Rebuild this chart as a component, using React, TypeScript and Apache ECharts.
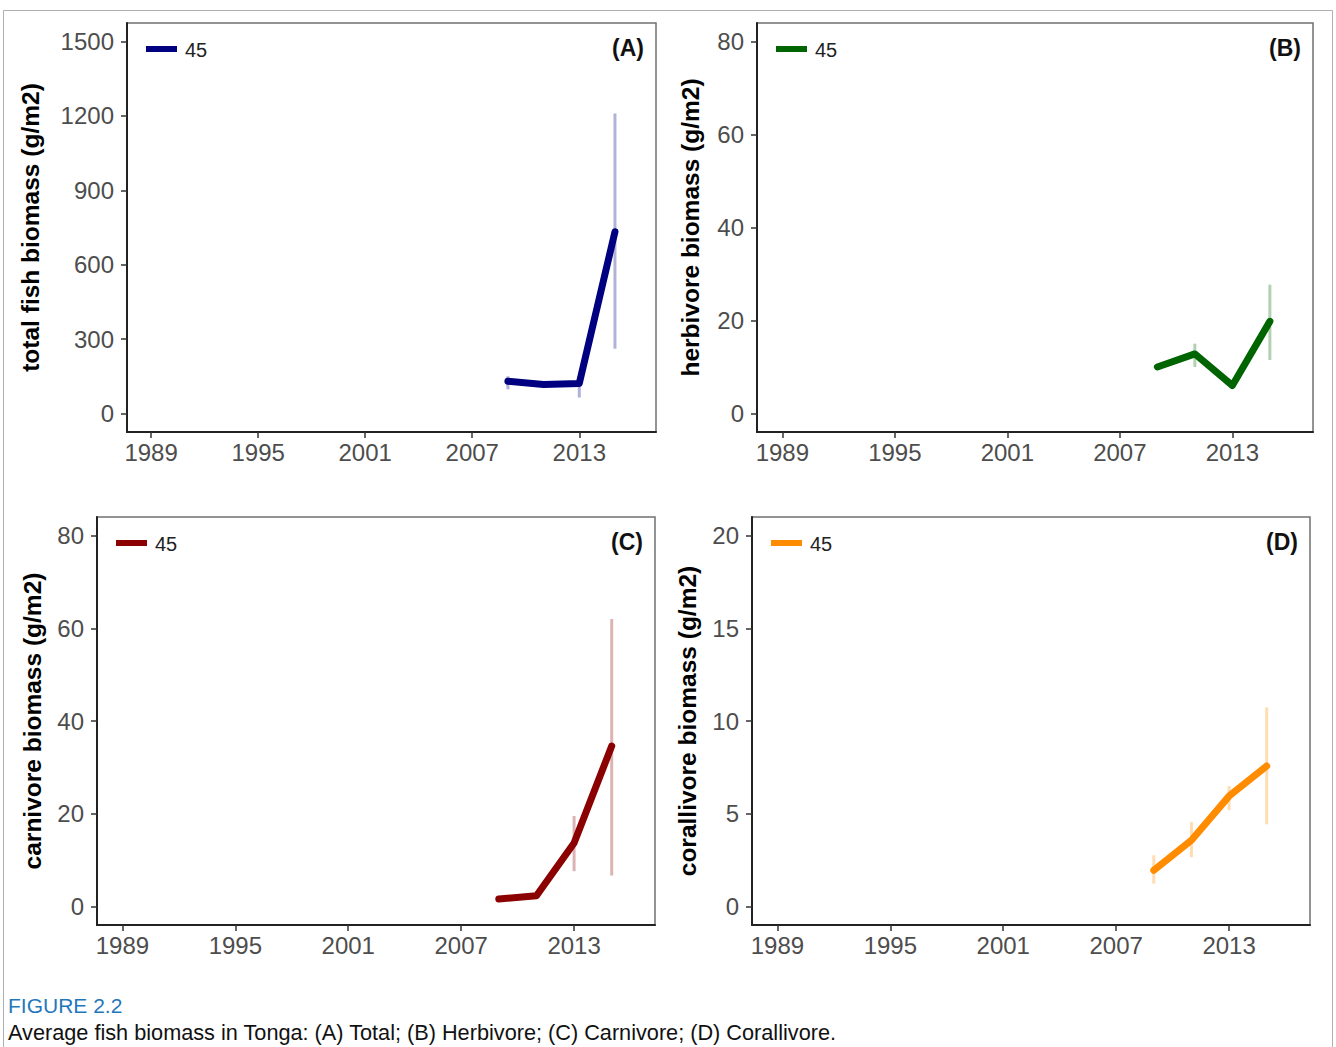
import React, { useEffect, useRef } from "react";
import * as echarts from "echarts";

const years = [2009, 2011, 2013, 2015];
const xTicks = [1989, 1995, 2001, 2007, 2013];

const totalMean = [130, 117, 121, 733];
const totalLow = [97, 110, 64, 261];
const totalHigh = [150, 125, 137, 1210];
const totalTicks = [0, 300, 600, 900, 1200, 1500];

const herbMean = [10, 12.8, 6.0, 19.8];
const herbLow = [9.5, 10.0, 5.6, 11.5];
const herbHigh = [10.5, 15.0, 6.4, 27.7];
const herbTicks = [0, 20, 40, 60, 80];

const carnMean = [1.6, 2.3, 13.7, 34.6];
const carnLow = [1.3, 2.0, 7.6, 6.7];
const carnHigh = [1.9, 2.6, 19.5, 62.0];
const carnTicks = [0, 20, 40, 60, 80];

const coralMean = [1.95, 3.57, 5.95, 7.57];
const coralLow = [1.23, 2.66, 5.19, 4.43];
const coralHigh = [2.76, 4.56, 6.49, 10.74];
const coralTicks = [0, 5, 10, 15, 20];

const legendLabel = "45";
const caption1 = "FIGURE 2.2";
const caption2 =
  "Average fish biomass in Tonga: (A) Total; (B) Herbivore; (C) Carnivore; (D) Corallivore.";

const panels = [
  {
    tag: "(A)", title: "total fish biomass (g/m2)", mean: totalMean, low: totalLow, high: totalHigh,
    ticks: totalTicks, ymin: -75, ymax: 1575, color: "#000080", err: "rgba(0,0,128,0.3)",
    grid: { left: 127, top: 23, width: 529, height: 409 }, nameGap: 84,
  },
  {
    tag: "(B)", title: "herbivore biomass (g/m2)", mean: herbMean, low: herbLow, high: herbHigh,
    ticks: herbTicks, ymin: -4, ymax: 84, color: "#006400", err: "rgba(0,100,0,0.3)",
    grid: { left: 757, top: 23, width: 556, height: 409 }, nameGap: 54,
  },
  {
    tag: "(C)", title: "carnivore biomass (g/m2)", mean: carnMean, low: carnLow, high: carnHigh,
    ticks: carnTicks, ymin: -4, ymax: 84, color: "#8B0000", err: "rgba(139,0,0,0.3)",
    grid: { left: 97, top: 517, width: 558, height: 408 }, nameGap: 52,
  },
  {
    tag: "(D)", title: "corallivore biomass (g/m2)", mean: coralMean, low: coralLow, high: coralHigh,
    ticks: coralTicks, ymin: -1, ymax: 21, color: "#FF8C00", err: "rgba(255,140,0,0.3)",
    grid: { left: 752, top: 517, width: 558, height: 408 }, nameGap: 52,
  },
];

const sans = "Liberation Sans";

export default function App() {
  const ref = useRef<HTMLDivElement>(null);
  useEffect(() => {
    if (!ref.current) return;
    const chart = echarts.init(ref.current, null, { renderer: "svg" });
    const grids: any[] = [];
    const xAxes: any[] = [];
    const yAxes: any[] = [];
    const series: any[] = [];
    const graphics: any[] = [];

    graphics.push({
      type: "rect",
      shape: { x: 3.5, y: 10.5, width: 1329, height: 1100 },
      style: { fill: "none", stroke: "#b0b0b0", lineWidth: 1 },
      silent: true,
      z: 0,
    });

    panels.forEach((p, i) => {
      grids.push({
        left: p.grid.left, top: p.grid.top, width: p.grid.width, height: p.grid.height,
        show: true, borderColor: "#707070", borderWidth: 1.5, backgroundColor: "#fff",
      });
      xAxes.push({
        type: "value", gridIndex: i, min: 1987.65, max: 2017.3,
        axisLine: { show: true, onZero: false, lineStyle: { color: "#222", width: 2 } },
        axisTick: { show: true, customValues: xTicks, length: 6, lineStyle: { color: "#333", width: 1.5 } },
        axisLabel: {
          customValues: xTicks, margin: 8, color: "#4d4d4d", fontSize: 24,
          fontFamily: sans, formatter: (v: number) => String(v),
        },
        splitLine: { show: false },
      });
      yAxes.push({
        type: "value", gridIndex: i, min: p.ymin, max: p.ymax,
        name: p.title, nameLocation: "middle", nameGap: p.nameGap,
        nameTextStyle: { fontSize: 24.5, fontWeight: "bold", color: "#000", fontFamily: sans },
        axisLine: { show: true, onZero: false, lineStyle: { color: "#222", width: 2 } },
        axisTick: { show: true, customValues: p.ticks, length: 6, lineStyle: { color: "#333", width: 1.5 } },
        axisLabel: {
          customValues: p.ticks, margin: 13, color: "#4d4d4d", fontSize: 24,
          fontFamily: sans, formatter: (v: number) => String(v),
        },
        splitLine: { show: false },
      });
      series.push({
        type: "custom", xAxisIndex: i, yAxisIndex: i,
        data: years.map((y, k) => [y, p.low[k], p.high[k]]),
        encode: { x: 0, y: [1, 2] },
        renderItem: (params: any, api: any) => {
          const x = api.value(0);
          const a = api.coord([x, api.value(1)]);
          const b = api.coord([x, api.value(2)]);
          return {
            type: "line",
            shape: { x1: a[0], y1: a[1], x2: b[0], y2: b[1] },
            style: { stroke: p.err, lineWidth: 3 },
          };
        },
        z: 2,
      });
      series.push({
        type: "line", xAxisIndex: i, yAxisIndex: i, name: legendLabel,
        data: years.map((y, k) => [y, p.mean[k]]),
        symbol: "none",
        lineStyle: { color: p.color, width: 7, cap: "round", join: "round" },
        z: 3,
      });
      const g = p.grid;
      graphics.push({
        type: "line",
        shape: { x1: g.left + 19, y1: g.top + 26, x2: g.left + 50, y2: g.top + 26 },
        style: { stroke: p.color, lineWidth: 6 },
        z: 10,
      });
      graphics.push({
        type: "text",
        x: g.left + 58, y: g.top + 27,
        style: { text: legendLabel, fill: "#222", font: `20px "${sans}"`, textVerticalAlign: "middle" },
        z: 10,
      });
      graphics.push({
        type: "text",
        x: g.left + g.width - 12, y: g.top + 25,
        style: {
          text: p.tag, fill: "#111", font: `bold 23px "${sans}"`,
          textAlign: "right", textVerticalAlign: "middle",
        },
        z: 10,
      });
    });

    graphics.push({
      type: "text", x: 8, y: 1016,
      style: { text: caption1, fill: "#1f77bb", font: `21px "${sans}"`, textVerticalAlign: "bottom" },
    });
    graphics.push({
      type: "text", x: 8, y: 1043,
      style: { text: caption2, fill: "#111", font: `21.7px "${sans}"`, textVerticalAlign: "bottom" },
    });

    chart.setOption({
      animation: false,
      backgroundColor: "#fff",
      grid: grids,
      xAxis: xAxes,
      yAxis: yAxes,
      series,
      graphic: graphics,
    });
    return () => chart.dispose();
  }, []);
  return (
    <div
      ref={ref}
      style={{ position: "fixed", left: 0, top: 0, width: 1336, height: 1047 }}
    />
  );
}
